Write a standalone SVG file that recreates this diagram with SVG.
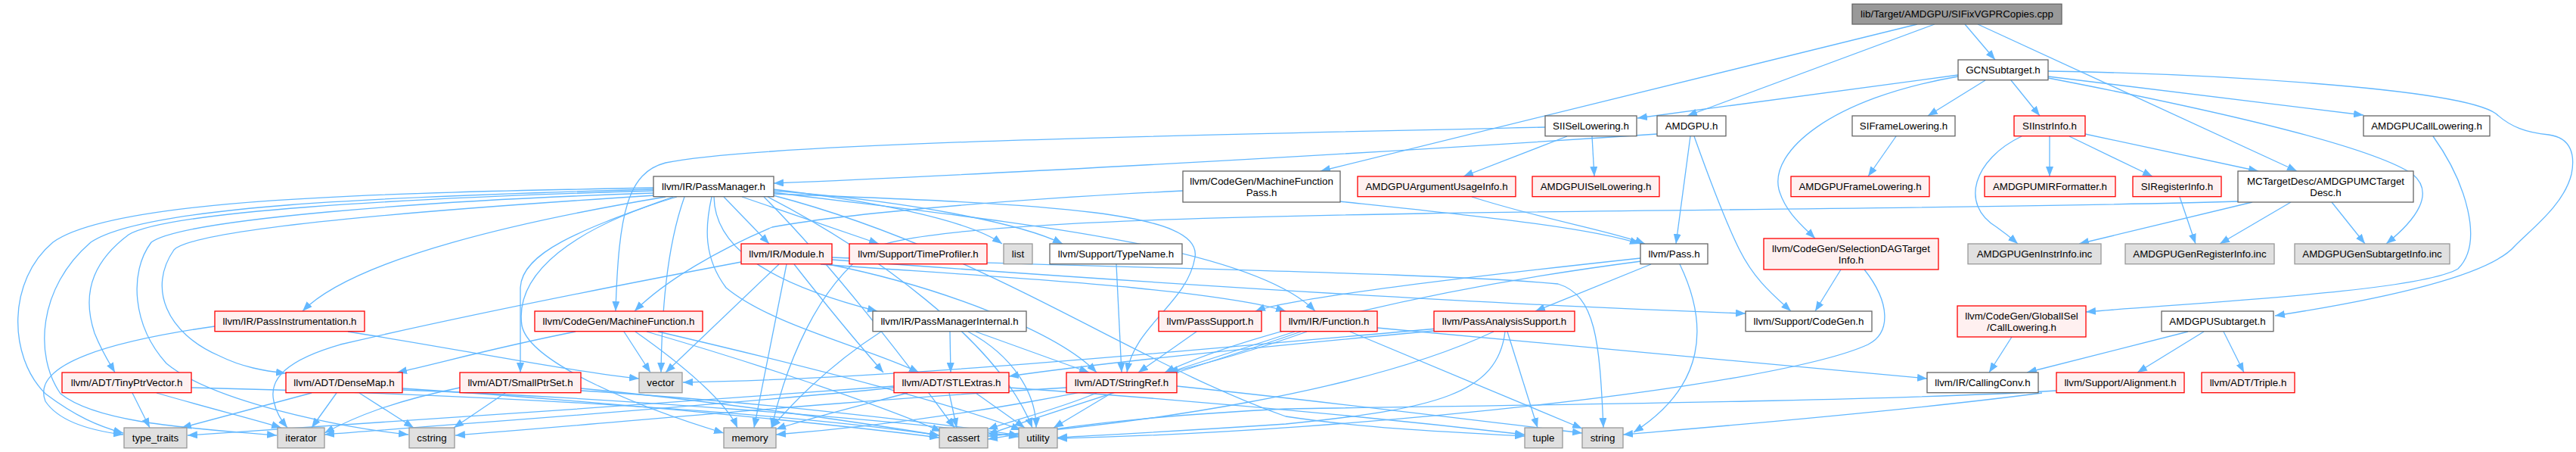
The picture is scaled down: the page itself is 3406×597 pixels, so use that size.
<svg xmlns="http://www.w3.org/2000/svg" width="3406" height="597" viewBox="0 0 3406 597">
<defs>
<marker id="ah" viewBox="0 0 13 10" markerUnits="userSpaceOnUse" markerWidth="13" markerHeight="10" refX="13" refY="5" orient="auto">
<path d="M0,0 L13,5 L0,10 z" fill="#63b8ff"/>
</marker>
</defs>
<style>
.e path{fill:none;stroke:#63b8ff;stroke-width:1.3;marker-end:url(#ah)}
rect{stroke-width:1.3}
.w rect{fill:#ffffff;stroke:#666666}
.r rect{fill:#fff0f0;stroke:#ff0000}
.g rect{fill:#e0e0e0;stroke:#999999}
.root rect{fill:#999999;stroke:#666666}
text{font-family:"Liberation Sans",Arial,Helvetica,sans-serif;font-size:13.33px;fill:#000000;text-anchor:middle}
</style>
<rect width="3406" height="597" fill="#ffffff"/>
<g class="e" id="edges">
<path d="M2558,32 L2231,153"/>
<path d="M2598,32 L2638,79"/>
<path d="M2615,32 L3037,226"/>
<path d="M2535,32 L1746,226"/>
<path d="M2589,99 L2165,156"/>
<path d="M2589,101 C2420,130 2340,200 2352,250 C2360,280 2385,300 2400,315"/>
<path d="M2625,106 L2549,153"/>
<path d="M2659,106 L2697,153"/>
<path d="M2708,94 C2900,97 3250,115 3300,150 C3320,168 3340,175 3370,178 C3400,182 3405,205 3400,230 C3390,270 3350,300 3325,325 C3290,365 3150,395 3008,417"/>
<path d="M2708,101 L3125,152"/>
<path d="M2708,103 C2900,140 3130,190 3190,230 C3220,255 3195,290 3155,322"/>
<path d="M2043,168 C1500,180 1000,190 880,215 C830,228 818,280 814,411"/>
<path d="M2072,180 L1935,233"/>
<path d="M2105,180 L2108,233"/>
<path d="M2191,177 C1700,210 1200,235 1023,242"/>
<path d="M2235,180 L2216,322"/>
<path d="M2240,180 C2265,250 2285,300 2300,330 C2320,370 2345,390 2368,411"/>
<path d="M2507,180 L2470,233"/>
<path d="M2673,180 C2610,210 2590,270 2640,300 C2650,307 2660,315 2668,322"/>
<path d="M2710,180 L2710,233"/>
<path d="M2736,180 L2846,233"/>
<path d="M2757,177 L2986,226"/>
<path d="M3217,180 C3260,240 3285,320 3250,355 C3200,385 2900,400 2758,412"/>
<path d="M1946,260 C2040,290 2130,305 2175,322"/>
<path d="M1771,266 C1950,285 2100,300 2168,322"/>
<path d="M1564,252 C1300,265 1100,285 1021,300 C950,330 880,370 839,411"/>
<path d="M2882,260 L2903,322"/>
<path d="M2960,266 C2300,285 1250,270 1150,330 C1080,380 1040,480 1020,565"/>
<path d="M2978,267 L2749,322"/>
<path d="M3029,267 L2935,322"/>
<path d="M3083,267 L3127,322"/>
<path d="M864,248 C500,255 150,262 70,320 C10,370 10,470 60,520 C100,550 130,563 163,572"/>
<path d="M864,250 C500,260 190,272 120,320 C50,380 45,470 80,520 C130,560 260,566 366,575"/>
<path d="M864,252 C520,262 220,280 170,310 C130,340 105,380 125,440 C135,465 145,480 152,492"/>
<path d="M864,255 C560,265 240,290 200,320 C170,360 175,430 220,480 C280,530 450,565 540,574"/>
<path d="M866,258 C600,275 260,300 230,330 C195,380 220,440 290,470 C320,485 350,490 378,493"/>
<path d="M880,260 C700,290 470,340 400,411"/>
<path d="M890,260 C780,300 690,330 688,380 L688,492"/>
<path d="M905,260 C880,330 875,420 874,492"/>
<path d="M895,260 C760,300 680,360 690,430 C700,480 850,540 957,572"/>
<path d="M957,260 L1017,322"/>
<path d="M981,260 L1162,322"/>
<path d="M941,260 C932,300 930,340 960,380 C1020,430 1150,460 1215,492"/>
<path d="M944,260 C945,320 1000,370 1160,411"/>
<path d="M1022,250 C1150,265 1280,290 1325,322"/>
<path d="M1022,252 C1200,265 1350,295 1405,322"/>
<path d="M1022,254 C1300,290 1650,320 1739,411"/>
<path d="M1022,256 C1400,270 1590,280 1580,340 C1570,400 1500,430 1490,492"/>
<path d="M1022,258 C1300,330 1500,480 1700,550 C1800,565 1900,570 2016,576"/>
<path d="M1010,260 C1100,350 1200,480 1262,565"/>
<path d="M1015,260 C1150,330 1320,450 1365,565"/>
<path d="M980,346 C800,380 600,420 450,455 C380,475 355,500 362,530 C365,545 372,555 380,565"/>
<path d="M1030,349 L880,492"/>
<path d="M1040,349 L997,565"/>
<path d="M1085,349 C1300,365 1600,380 1700,411"/>
<path d="M1050,349 C1090,400 1140,460 1168,492"/>
<path d="M1095,349 C1250,380 1400,440 1450,492"/>
<path d="M1100,340 C1500,355 1900,360 2060,375 C2110,390 2115,450 2120,565"/>
<path d="M1100,343 C1400,365 1900,400 2308,414"/>
<path d="M1476,349 L1483,492"/>
<path d="M284,431 C150,450 40,480 60,530 C80,560 130,570 163,574"/>
<path d="M460,438 C600,460 750,490 845,500"/>
<path d="M761,438 C650,460 580,480 525,492"/>
<path d="M825,438 L860,492"/>
<path d="M840,438 C900,480 960,530 975,565"/>
<path d="M855,438 C1000,480 1150,530 1245,570"/>
<path d="M870,438 C1050,480 1250,530 1350,568"/>
<path d="M1165,438 C1100,480 1050,530 1020,565"/>
<path d="M1256,438 L1257,492"/>
<path d="M1280,438 C1340,470 1370,520 1370,565"/>
<path d="M1290,438 L1440,492"/>
<path d="M1582,438 L1505,492"/>
<path d="M1821,433 L2548,500"/>
<path d="M1785,438 L2092,566"/>
<path d="M1712,438 L1545,492"/>
<path d="M1720,438 C1600,480 1400,540 1306,574"/>
<path d="M1728,438 C1500,520 1200,560 1026,574"/>
<path d="M1896,437 C1700,455 1450,480 1334,497"/>
<path d="M1900,434 C1600,460 1200,500 903,505"/>
<path d="M1975,438 C1800,520 1500,560 1306,576"/>
<path d="M1990,438 C1980,520 1900,540 1700,560 C1550,570 1450,575 1398,578"/>
<path d="M1993,438 L2033,565"/>
<path d="M2169,341 C1900,370 1700,395 1660,411"/>
<path d="M2183,349 L2030,411"/>
<path d="M2221,349 C2260,430 2255,510 2160,571"/>
<path d="M2170,345 C1900,380 1650,440 1540,492"/>
<path d="M2434,356 L2400,411"/>
<path d="M2465,356 C2500,400 2500,440 2470,455 C2350,510 1800,570 1398,579"/>
<path d="M2660,445 L2630,492"/>
<path d="M2893,438 L2680,492"/>
<path d="M2914,438 L2826,492"/>
<path d="M2940,438 L2967,492"/>
<path d="M2719,516 C2500,530 2000,535 1700,540 C1500,550 1400,565 1306,580"/>
<path d="M2700,519 C2500,545 2250,565 2146,574"/>
<path d="M175,519 L198,565"/>
<path d="M207,519 C280,540 340,555 372,565"/>
<path d="M253,512 C600,520 1000,540 1242,575"/>
<path d="M412,519 L240,565"/>
<path d="M445,519 L412,565"/>
<path d="M475,519 L547,565"/>
<path d="M532,513 C800,530 1100,560 1242,578"/>
<path d="M532,515 C800,525 1200,555 1347,577"/>
<path d="M668,519 L600,565"/>
<path d="M608,512 C520,530 470,550 429,572"/>
<path d="M768,513 C950,530 1150,560 1242,575"/>
<path d="M768,516 C1000,530 1250,560 1347,575"/>
<path d="M1182,510 C900,530 500,560 248,575"/>
<path d="M1182,512 C900,540 600,560 429,574"/>
<path d="M1200,519 C1120,540 1060,555 1026,567"/>
<path d="M1255,519 L1265,565"/>
<path d="M1290,519 L1355,565"/>
<path d="M1334,512 C1600,530 1850,555 2016,574"/>
<path d="M1410,512 C1100,530 800,560 602,575"/>
<path d="M1450,519 C1400,540 1340,555 1306,567"/>
<path d="M1470,519 L1393,565"/>
<path d="M1556,510 C1750,530 1950,555 2092,572"/>
</g>
<g id="n_root" class="root"><rect x="2449" y="5.3" width="277" height="26.7"/><text x="2587.5" y="23.3">lib/Target/AMDGPU/SIFixVGPRCopies.cpp</text></g>
<g id="n_gcn" class="w"><rect x="2589" y="79" width="119" height="26.7"/><text x="2648.5" y="97">GCNSubtarget.h</text></g>
<g id="n_siisel" class="w"><rect x="2043" y="153" width="121" height="26.7"/><text x="2103.5" y="171">SIISelLowering.h</text></g>
<g id="n_amdgpu" class="w"><rect x="2191" y="153" width="91" height="26.7"/><text x="2236.5" y="171">AMDGPU.h</text></g>
<g id="n_siframe" class="w"><rect x="2449" y="153" width="136" height="26.7"/><text x="2517" y="171">SIFrameLowering.h</text></g>
<g id="n_siinstr" class="r"><rect x="2663" y="153" width="94" height="26.7"/><text x="2710" y="171">SIInstrInfo.h</text></g>
<g id="n_callow" class="w"><rect x="3125" y="153" width="167" height="26.7"/><text x="3208.5" y="171">AMDGPUCallLowering.h</text></g>
<g id="n_pm" class="w"><rect x="864" y="233" width="159" height="26.7"/><text x="943.5" y="251">llvm/IR/PassManager.h</text></g>
<g id="n_mfp" class="w"><rect x="1564" y="226" width="208" height="41"/><text x="1668" y="244">llvm/CodeGen/MachineFunction</text><text x="1668" y="259">Pass.h</text></g>
<g id="n_argusage" class="r"><rect x="1795" y="233" width="209" height="26.7"/><text x="1899.5" y="251">AMDGPUArgumentUsageInfo.h</text></g>
<g id="n_amdisel" class="r"><rect x="2026" y="233" width="168" height="26.7"/><text x="2110" y="251">AMDGPUISelLowering.h</text></g>
<g id="n_amdframe" class="r"><rect x="2368" y="233" width="183" height="26.7"/><text x="2459.5" y="251">AMDGPUFrameLowering.h</text></g>
<g id="n_mirfmt" class="r"><rect x="2624" y="233" width="173" height="26.7"/><text x="2710.5" y="251">AMDGPUMIRFormatter.h</text></g>
<g id="n_sireg" class="r"><rect x="2820" y="233" width="117" height="26.7"/><text x="2878.5" y="251">SIRegisterInfo.h</text></g>
<g id="n_mctd" class="w"><rect x="2959" y="226" width="232" height="41"/><text x="3075" y="244">MCTargetDesc/AMDGPUMCTarget</text><text x="3075" y="259">Desc.h</text></g>
<g id="n_module" class="r"><rect x="980" y="322" width="120" height="26.7"/><text x="1040" y="340">llvm/IR/Module.h</text></g>
<g id="n_timeprof" class="r"><rect x="1123" y="322" width="182" height="26.7"/><text x="1214" y="340">llvm/Support/TimeProfiler.h</text></g>
<g id="n_list" class="g"><rect x="1327" y="322" width="38" height="26.7"/><text x="1346" y="340">list</text></g>
<g id="n_typename" class="w"><rect x="1388" y="322" width="175" height="26.7"/><text x="1475.5" y="340">llvm/Support/TypeName.h</text></g>
<g id="n_pass" class="w"><rect x="2169" y="322" width="89" height="26.7"/><text x="2213.5" y="340">llvm/Pass.h</text></g>
<g id="n_sdti" class="r"><rect x="2332" y="315" width="231" height="41"/><text x="2447.5" y="333">llvm/CodeGen/SelectionDAGTarget</text><text x="2447.5" y="348">Info.h</text></g>
<g id="n_geninstr" class="g"><rect x="2602" y="322" width="176" height="26.7"/><text x="2690" y="340">AMDGPUGenInstrInfo.inc</text></g>
<g id="n_genreg" class="g"><rect x="2810" y="322" width="197" height="26.7"/><text x="2908.5" y="340">AMDGPUGenRegisterInfo.inc</text></g>
<g id="n_gensub" class="g"><rect x="3034" y="322" width="205" height="26.7"/><text x="3136.5" y="340">AMDGPUGenSubtargetInfo.inc</text></g>
<g id="n_passinstr" class="r"><rect x="284" y="411" width="198" height="26.7"/><text x="383" y="429">llvm/IR/PassInstrumentation.h</text></g>
<g id="n_mf" class="r"><rect x="707" y="411" width="222" height="26.7"/><text x="818" y="429">llvm/CodeGen/MachineFunction.h</text></g>
<g id="n_pmi" class="w"><rect x="1154" y="411" width="203" height="26.7"/><text x="1255.5" y="429">llvm/IR/PassManagerInternal.h</text></g>
<g id="n_passsupport" class="r"><rect x="1532" y="411" width="136" height="26.7"/><text x="1600" y="429">llvm/PassSupport.h</text></g>
<g id="n_function" class="r"><rect x="1693" y="411" width="128" height="26.7"/><text x="1757" y="429">llvm/IR/Function.h</text></g>
<g id="n_pas" class="r"><rect x="1896" y="411" width="186" height="26.7"/><text x="1989" y="429">llvm/PassAnalysisSupport.h</text></g>
<g id="n_codegen" class="w"><rect x="2308" y="411" width="167" height="26.7"/><text x="2391.5" y="429">llvm/Support/CodeGen.h</text></g>
<g id="n_gisel" class="r"><rect x="2588" y="404" width="170" height="41"/><text x="2673" y="422">llvm/CodeGen/GlobalISel</text><text x="2673" y="437">/CallLowering.h</text></g>
<g id="n_amdsub" class="w"><rect x="2858" y="411" width="148" height="26.7"/><text x="2932" y="429">AMDGPUSubtarget.h</text></g>
<g id="n_tinyptr" class="r"><rect x="82" y="492" width="171" height="26.7"/><text x="167.5" y="510">llvm/ADT/TinyPtrVector.h</text></g>
<g id="n_densemap" class="r"><rect x="378" y="492" width="154" height="26.7"/><text x="455" y="510">llvm/ADT/DenseMap.h</text></g>
<g id="n_smallptr" class="r"><rect x="608" y="492" width="160" height="26.7"/><text x="688" y="510">llvm/ADT/SmallPtrSet.h</text></g>
<g id="n_vector" class="g"><rect x="845" y="492" width="57" height="26.7"/><text x="873.5" y="510">vector</text></g>
<g id="n_stlextras" class="r"><rect x="1182" y="492" width="152" height="26.7"/><text x="1258" y="510">llvm/ADT/STLExtras.h</text></g>
<g id="n_stringref" class="r"><rect x="1410" y="492" width="146" height="26.7"/><text x="1483" y="510">llvm/ADT/StringRef.h</text></g>
<g id="n_callconv" class="w"><rect x="2548" y="492" width="147" height="26.7"/><text x="2621.5" y="510">llvm/IR/CallingConv.h</text></g>
<g id="n_align" class="r"><rect x="2719" y="492" width="169" height="26.7"/><text x="2803.5" y="510">llvm/Support/Alignment.h</text></g>
<g id="n_triple" class="r"><rect x="2911" y="492" width="123" height="26.7"/><text x="2972.5" y="510">llvm/ADT/Triple.h</text></g>
<g id="n_typetraits" class="g"><rect x="164" y="565" width="83" height="26.7"/><text x="205.5" y="583">type_traits</text></g>
<g id="n_iterator" class="g"><rect x="367" y="565" width="62" height="26.7"/><text x="398" y="583">iterator</text></g>
<g id="n_cstring" class="g"><rect x="541" y="565" width="60" height="26.7"/><text x="571" y="583">cstring</text></g>
<g id="n_memory" class="g"><rect x="957" y="565" width="69" height="26.7"/><text x="991.5" y="583">memory</text></g>
<g id="n_cassert" class="g"><rect x="1242" y="565" width="64" height="26.7"/><text x="1274" y="583">cassert</text></g>
<g id="n_utility" class="g"><rect x="1347" y="565" width="51" height="26.7"/><text x="1372.5" y="583">utility</text></g>
<g id="n_tuple" class="g"><rect x="2016" y="565" width="50" height="26.7"/><text x="2041" y="583">tuple</text></g>
<g id="n_string" class="g"><rect x="2092" y="565" width="54" height="26.7"/><text x="2119" y="583">string</text></g>
</svg>
